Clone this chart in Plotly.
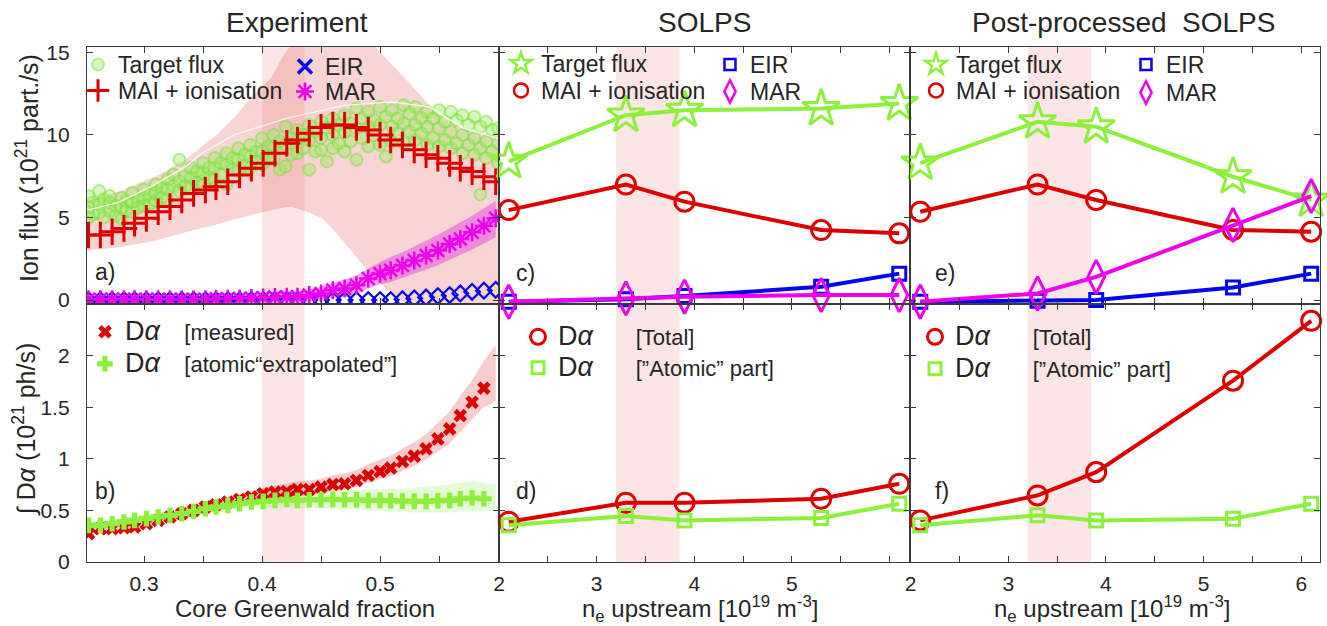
import plotly.graph_objects as go

# ------------------------------------------------------------------ data
# Experiment: core Greenwald fraction grid of the MAI / MAR / EIR / D-alpha series
GF = [0.253, 0.263, 0.273, 0.283, 0.292, 0.302, 0.312, 0.322, 0.332, 0.342,
      0.352, 0.361, 0.371, 0.381, 0.391, 0.401, 0.411, 0.421, 0.430, 0.440,
      0.450, 0.460, 0.470, 0.480, 0.490, 0.500, 0.509, 0.519, 0.529, 0.539,
      0.549, 0.559, 0.568, 0.578, 0.588, 0.598]
MAI_EXP = [3.94, 3.94, 4.14, 4.34, 4.65, 4.95, 5.35, 5.66, 6.06, 6.46,
           6.67, 6.87, 7.17, 7.58, 7.98, 8.28, 8.89, 9.5, 9.7, 10.1,
           10.46, 10.6, 10.6, 10.46, 10.3, 10.0, 9.7, 9.4, 9.1, 8.8,
           8.59, 8.28, 7.98, 7.78, 7.47, 7.17]
MAR_EXP = [0.05, 0.05, 0.05, 0.05, 0.05, 0.05, 0.05, 0.05, 0.05, 0.05,
           0.05, 0.07, 0.08, 0.10, 0.12, 0.15, 0.18, 0.20, 0.2, 0.3,
           0.4, 0.6, 0.7, 0.9, 1.3, 1.6, 1.8, 2.1, 2.4, 2.7,
           3.0, 3.4, 3.7, 4.1, 4.5, 4.95]
MAR_EXP_HI = [0.25, 0.25, 0.25, 0.25, 0.25, 0.25, 0.25, 0.27, 0.28, 0.3,
              0.3, 0.32, 0.34, 0.37, 0.4, 0.45, 0.5, 0.55, 0.5, 0.65,
              0.8, 1.05, 1.25, 1.5, 1.9, 2.3, 2.6, 2.9, 3.25, 3.6,
              3.95, 4.35, 4.7, 5.1, 5.55, 6.0]
MAR_EXP_LO = [-0.2, -0.2, -0.2, -0.2, -0.2, -0.2, -0.2, -0.2, -0.2, -0.2,
              -0.2, -0.2, -0.2, -0.2, -0.2, -0.2, -0.2, -0.2, -0.2, -0.1,
              0.0, 0.15, 0.2, 0.35, 0.7, 0.95, 1.1, 1.35, 1.6, 1.85,
              2.1, 2.45, 2.75, 3.05, 3.4, 3.8]
EIR_EXP = [0, 0, 0, 0, 0, 0, 0, 0, 0, 0,
           0, 0, 0, 0, 0, 0, 0, 0, 0, 0,
           0, 0, 0, 0, 0, 0, 0, 0.05, 0.1, 0.16,
           0.24, 0.3, 0.4, 0.5, 0.57, 0.62]

# uncertainty band of MAI + ionisation
BAND_GF = [0.252, 0.28, 0.31, 0.335, 0.363, 0.377, 0.391, 0.408, 0.418, 0.425, 0.44,
           0.452, 0.466, 0.48, 0.494, 0.508, 0.523, 0.537, 0.551, 0.565, 0.58, 0.601]
MAI_HI = [6.0, 6.6, 7.5, 8.5, 10.1, 11.1, 12.3, 13.5, 14.8, 15.5, 15.5,
          15.5, 15.5, 15.5, 15.5, 14.4, 13.3, 12.2, 11.1, 10.6, 10.2, 9.9]
MAI_LO = [3.0, 3.2, 3.6, 4.1, 4.6, 4.9, 5.15, 5.45, 5.6, 5.65, 5.3,
          4.9, 3.8, 2.6, 1.4, 0.5, -0.3, -0.5, -0.5, -0.5, -0.5, -0.5]

# target flux measurements (scatter cloud)
TF_POINTS = [
    (0.253, 6.3), (0.253, 5.6), (0.253, 5.0), (0.257, 5.9), (0.257, 5.2),
    (0.262, 6.6), (0.262, 5.8), (0.262, 5.3), (0.266, 6.1), (0.266, 5.0),
    (0.271, 5.9), (0.271, 5.4), (0.271, 6.3), (0.276, 5.7), (0.276, 5.1),
    (0.281, 6.2), (0.281, 5.6), (0.281, 4.9), (0.285, 6.0), (0.285, 5.4),
    (0.290, 6.5), (0.290, 5.9), (0.290, 5.3), (0.295, 6.1), (0.295, 5.6),
    (0.300, 6.7), (0.300, 6.2), (0.300, 5.7), (0.305, 6.4), (0.305, 5.8),
    (0.310, 7.0), (0.310, 6.5), (0.310, 6.0), (0.315, 6.8), (0.315, 6.2),
    (0.320, 7.3), (0.320, 6.7), (0.320, 6.1), (0.325, 7.6), (0.325, 6.9),
    (0.330, 8.5), (0.330, 7.2), (0.330, 6.6), (0.335, 7.5), (0.335, 6.9),
    (0.340, 8.0), (0.340, 7.4), (0.340, 6.8), (0.345, 7.8), (0.345, 7.1),
    (0.350, 8.3), (0.350, 7.7), (0.350, 7.0), (0.355, 8.0), (0.355, 7.4),
    (0.360, 8.6), (0.360, 8.0), (0.360, 7.3), (0.365, 8.3), (0.365, 7.6),
    (0.370, 8.9), (0.370, 8.2), (0.370, 7.0), (0.375, 8.6), (0.375, 7.9),
    (0.380, 9.2), (0.380, 8.5), (0.380, 7.8), (0.385, 8.8), (0.385, 8.1),
    (0.390, 9.4), (0.390, 8.7), (0.390, 8.0), (0.395, 9.0), (0.395, 8.4),
    (0.400, 9.8), (0.400, 9.0), (0.400, 8.2), (0.405, 9.3), (0.405, 8.5),
    (0.410, 10.0), (0.410, 9.3), (0.410, 8.6), (0.415, 9.6), (0.415, 7.9),
    (0.420, 10.5), (0.420, 9.4), (0.420, 8.1), (0.425, 9.8), (0.425, 8.8),
    (0.430, 10.3), (0.430, 9.6), (0.430, 8.9), (0.435, 10.0), (0.435, 9.2),
    (0.440, 10.6), (0.440, 9.7), (0.440, 7.9), (0.445, 10.2), (0.445, 9.0),
    (0.450, 10.8), (0.450, 9.8), (0.450, 9.1), (0.455, 10.4), (0.455, 8.4),
    (0.460, 11.0), (0.460, 10.0), (0.460, 9.2), (0.465, 10.6), (0.465, 9.5),
    (0.470, 11.2), (0.470, 10.2), (0.470, 9.0), (0.475, 10.7), (0.475, 9.6),
    (0.480, 11.6), (0.480, 10.4), (0.480, 8.5), (0.485, 11.0), (0.485, 9.8),
    (0.490, 11.4), (0.490, 10.5), (0.490, 9.3), (0.495, 10.9), (0.495, 10.0),
    (0.500, 11.7), (0.500, 10.6), (0.500, 9.4), (0.505, 11.1), (0.505, 8.7),
    (0.510, 11.5), (0.510, 10.5), (0.510, 9.6), (0.515, 11.0), (0.515, 10.1),
    (0.520, 11.8), (0.520, 10.7), (0.520, 9.5), (0.525, 11.3), (0.525, 10.2),
    (0.530, 11.7), (0.530, 10.6), (0.530, 9.7), (0.535, 11.0), (0.535, 10.1),
    (0.540, 11.4), (0.540, 10.5), (0.540, 9.4), (0.545, 11.0), (0.545, 9.8),
    (0.550, 11.5), (0.550, 10.4), (0.550, 9.3), (0.555, 10.8), (0.555, 9.7),
    (0.560, 11.4), (0.560, 10.2), (0.560, 9.2), (0.565, 10.9), (0.565, 9.5),
    (0.570, 11.2), (0.570, 10.0), (0.570, 8.9), (0.575, 10.6), (0.575, 9.4),
    (0.580, 11.1), (0.580, 9.8), (0.580, 8.8), (0.585, 10.5), (0.585, 9.2),
    (0.585, 6.4), (0.590, 10.8), (0.590, 9.6), (0.590, 8.6), (0.595, 10.3),
    (0.595, 9.0), (0.600, 10.4), (0.600, 9.5), (0.600, 8.3),
]
TF_GF = [p[0] for p in TF_POINTS]
TF_FLUX = [p[1] for p in TF_POINTS]
TF_EDGE_GF = [0.252, 0.278, 0.306, 0.335, 0.349, 0.376, 0.42, 0.47, 0.51, 0.542, 0.571, 0.6]
TF_EDGE = [5.45, 5.9, 6.87, 8.08, 8.89, 10.0, 11.0, 11.8, 12.0, 11.7, 10.4, 9.8]

# Experiment D-alpha
DA_MEAS = [0.275, 0.323, 0.323, 0.333, 0.339, 0.371, 0.403, 0.436, 0.468, 0.5,
           0.533, 0.555, 0.581, 0.606, 0.63, 0.661, 0.678, 0.684, 0.703, 0.703,
           0.726, 0.751, 0.758, 0.79, 0.839, 0.877, 0.91, 0.974, 1.026, 1.097,
           1.193, 1.29, 1.419, 1.548, 1.684]
DA_MEAS_HI = [0.32, 0.36, 0.37, 0.38, 0.39, 0.42, 0.45, 0.48, 0.51, 0.54,
              0.57, 0.60, 0.63, 0.66, 0.69, 0.72, 0.74, 0.76, 0.78, 0.79,
              0.81, 0.84, 0.86, 0.89, 0.95, 0.99, 1.03, 1.10, 1.16, 1.24,
              1.35, 1.46, 1.61, 1.76, 1.95, 2.1]
DA_MEAS_LO = [0.24, 0.29, 0.29, 0.30, 0.30, 0.33, 0.36, 0.40, 0.43, 0.46,
              0.49, 0.51, 0.54, 0.56, 0.58, 0.61, 0.62, 0.63, 0.64, 0.65,
              0.67, 0.69, 0.70, 0.73, 0.77, 0.80, 0.83, 0.88, 0.93, 0.99,
              1.07, 1.15, 1.26, 1.38, 1.50, 1.56]
DA_ATOM = [0.355, 0.355, 0.371, 0.388, 0.403, 0.42, 0.436, 0.452, 0.468, 0.49,
           0.516, 0.533, 0.548, 0.565, 0.581, 0.587, 0.597, 0.606, 0.597, 0.603,
           0.603, 0.607, 0.603, 0.603, 0.597, 0.597, 0.594, 0.59, 0.587, 0.587,
           0.594, 0.597, 0.613, 0.62, 0.613]
DA_ATOM_HI = [0.40, 0.40, 0.41, 0.43, 0.44, 0.46, 0.48, 0.50, 0.52, 0.54,
              0.57, 0.59, 0.61, 0.63, 0.65, 0.66, 0.67, 0.68, 0.68, 0.69,
              0.69, 0.70, 0.70, 0.70, 0.70, 0.71, 0.71, 0.71, 0.72, 0.73,
              0.74, 0.75, 0.77, 0.78, 0.76, 0.75]
DA_ATOM_LO = [0.31, 0.31, 0.33, 0.35, 0.36, 0.38, 0.39, 0.41, 0.42, 0.44,
              0.46, 0.48, 0.49, 0.51, 0.52, 0.52, 0.53, 0.53, 0.52, 0.52,
              0.52, 0.51, 0.51, 0.51, 0.50, 0.50, 0.49, 0.49, 0.48, 0.48,
              0.48, 0.48, 0.49, 0.49, 0.49, 0.50]

# SOLPS and post-processed SOLPS
NE = [2.1, 3.3, 3.9, 5.3, 6.1]
SOLPS_TARGET = [8.4, 11.2, 11.5, 11.6, 11.9]
SOLPS_MAI = [5.45, 7.0, 5.96, 4.24, 4.04]
SOLPS_EIR = [-0.1, 0.05, 0.24, 0.8, 1.6]
SOLPS_MAR = [-0.1, 0.1, 0.2, 0.3, 0.3]
POST_TARGET = [8.3, 10.8, 10.5, 7.47, 6.06]
POST_MAI = [5.35, 7.0, 6.06, 4.24, 4.14]
POST_EIR = [-0.1, -0.05, 0.0, 0.76, 1.6]
POST_MAR = [-0.1, 0.4, 1.4, 4.55, 6.3]
SOLPS_DA_TOTAL = [0.39, 0.574, 0.574, 0.613, 0.758]
SOLPS_DA_ATOM = [0.355, 0.446, 0.403, 0.426, 0.565]
POST_DA_TOTAL = [0.403, 0.645, 0.871, 1.757, 2.337]
POST_DA_ATOM = [0.355, 0.452, 0.403, 0.42, 0.565]

EXP_WINDOW = [0.4, 0.436]
SOLPS_WINDOW = [3.2, 3.85]

GF_TICKS = [0.3, 0.35, 0.4, 0.45, 0.5, 0.55]
GF_LABELS = ["0.3", "", "0.4", "", "0.5", ""]
NE_TICKS = [2, 2.5, 3, 3.5, 4, 4.5, 5, 5.5, 6]
NE_LABELS_MID = ["2", "", "3", "", "4", "", "5", "", ""]
NE_LABELS_RIGHT = ["2", "", "3", "", "4", "", "5", "", "6"]
FLUX_TICKS = [0, 5, 10, 15]
DA_TICKS = [0, 0.5, 1, 1.5, 2]
DA_LABELS = ["0", "0.5", "1", "1.5", "2"]

# ------------------------------------------------------------------ style
FONT = "Liberation Sans, Arial, sans-serif"
TXT = "#262626"
FRAME = "#3a3a3a"
RED = "#DC0000"
GREEN = "#8CF03C"
BLUE = "#0505EE"
MAG = "#EE00EE"

W, H = 1327, 626
ML, MR, MT, MB = 87, 7, 47, 64
PW, PH = W - ML - MR, H - MT - MB


def px2x(px):
    return (px - ML) / PW


def py2y(py):
    return (H - MB - py) / PH


C1, C2 = px2x(499), px2x(910)
RMID = py2y(304)

fig = go.Figure()


def band(xs, lo, hi, color, xa, ya):
    fig.add_trace(go.Scatter(
        x=list(xs) + list(xs)[::-1], y=list(hi) + list(lo)[::-1],
        fill="toself", fillcolor=color, line=dict(width=0), mode="lines",
        hoverinfo="skip", showlegend=False, xaxis=xa, yaxis=ya))


DA = '<span style="font-size:27px">D<i>α</i></span>'

# ---------------- panel a
band(BAND_GF, MAI_LO, MAI_HI, "rgba(228,90,90,0.26)", "x", "y")
fig.add_trace(go.Scatter(
    x=TF_GF, y=TF_FLUX, mode="markers", name="Target flux",
    marker=dict(symbol="circle", size=12, color="rgba(150,240,90,0.38)",
                line=dict(color="rgba(120,228,55,0.5)", width=2)),
    xaxis="x", yaxis="y", legend="legend"))
fig.add_trace(go.Scatter(
    x=TF_EDGE_GF, y=TF_EDGE, mode="lines", line=dict(color="rgba(255,255,255,0.85)", width=1.2),
    showlegend=False, hoverinfo="skip", xaxis="x", yaxis="y"))
band(GF, MAR_EXP_LO, MAR_EXP_HI, "rgba(225,40,225,0.42)", "x", "y")
fig.add_trace(go.Scatter(
    x=GF, y=EIR_EXP, mode="markers", showlegend=False,
    marker=dict(symbol="diamond-open", size=12, color=BLUE, line=dict(color=BLUE, width=2.2)),
    xaxis="x", yaxis="y"))
fig.add_trace(go.Scatter(
    x=[None], y=[None], mode="markers", name="EIR",
    marker=dict(symbol="x-thin", size=14, color=BLUE, line=dict(color=BLUE, width=3.5)),
    xaxis="x", yaxis="y", legend="legend2"))
fig.add_trace(go.Scatter(
    x=GF, y=MAR_EXP, mode="markers", name="MAR",
    marker=dict(symbol="asterisk", size=15, color=MAG, line=dict(color=MAG, width=2.5)),
    xaxis="x", yaxis="y", legend="legend18"))
fig.add_trace(go.Scatter(
    x=GF, y=MAI_EXP, mode="markers", name="MAI + ionisation",
    marker=dict(symbol="cross-thin", size=19, color=RED, line=dict(color=RED, width=3)),
    xaxis="x", yaxis="y", legend="legend17"))

# ---------------- panel b
band(GF, DA_MEAS_LO, DA_MEAS_HI, "rgba(228,90,90,0.3)", "x4", "y4")
band(GF, DA_ATOM_LO, DA_ATOM_HI, "rgba(150,240,90,0.25)", "x4", "y4")
fig.add_trace(go.Scatter(
    x=GF[:len(DA_MEAS)], y=DA_MEAS, mode="markers",
    name=DA + "\u00a0\u00a0\u00a0\u00a0[measured]",
    marker=dict(symbol="x", size=12, color=RED, line=dict(width=0)),
    xaxis="x4", yaxis="y4", legend="legend7"))
fig.add_trace(go.Scatter(
    x=GF[:len(DA_ATOM)], y=DA_ATOM, mode="markers",
    name=DA + "\u00a0\u00a0\u00a0\u00a0[atomic“extrapolated”]",
    marker=dict(symbol="cross", size=13, color=GREEN, line=dict(width=0)),
    xaxis="x4", yaxis="y4", legend="legend8"))


# ---------------- panels c, e (ion fluxes, SOLPS)
def flux_panel(xa, ya, tgt, mai, eir, mar, legs):
    common = dict(mode="lines+markers", showlegend=False, cliponaxis=False, xaxis=xa, yaxis=ya)
    fig.add_trace(go.Scatter(x=NE, y=tgt, line=dict(color=GREEN, width=4),
                             marker=dict(symbol="star-open", size=28, color=GREEN,
                                         line=dict(color=GREEN, width=3)), **common))
    fig.add_trace(go.Scatter(x=NE, y=mai, line=dict(color=RED, width=4),
                             marker=dict(symbol="circle-open", size=19, color=RED,
                                         line=dict(color=RED, width=3)), **common))
    fig.add_trace(go.Scatter(x=NE, y=eir, line=dict(color=BLUE, width=4),
                             marker=dict(symbol="square-open", size=13, color=BLUE,
                                         line=dict(color=BLUE, width=3)), **common))
    fig.add_trace(go.Scatter(x=NE, y=mar, line=dict(color=MAG, width=4),
                             marker=dict(symbol="diamond-tall-open", size=24, color=MAG,
                                         line=dict(color=MAG, width=3)), **common))
    specs = [("Target flux", "star-open", GREEN, 16, legs[0]),
             ("MAI + ionisation", "circle-open", RED, 14, legs[1]),
             ("EIR", "square-open", BLUE, 11, legs[2]),
             ("MAR", "diamond-tall-open", MAG, 16, legs[3])]
    for name, sym, col, sz, lg in specs:
        fig.add_trace(go.Scatter(x=[None], y=[None], mode="markers", name=name,
                                 marker=dict(symbol=sym, size=sz, color=col, line=dict(color=col, width=2.5)),
                                 xaxis=xa, yaxis=ya, legend=lg, showlegend=True))


flux_panel("x2", "y2", SOLPS_TARGET, SOLPS_MAI, SOLPS_EIR, SOLPS_MAR,
           ["legend3", "legend4", "legend5", "legend6"])
flux_panel("x3", "y3", POST_TARGET, POST_MAI, POST_EIR, POST_MAR,
           ["legend9", "legend10", "legend11", "legend12"])


# ---------------- panels d, f (D-alpha, SOLPS)
def da_panel(xa, ya, total, atom, legs):
    common = dict(mode="lines+markers", showlegend=False, cliponaxis=False, xaxis=xa, yaxis=ya)
    fig.add_trace(go.Scatter(x=NE, y=total, line=dict(color=RED, width=4),
                             marker=dict(symbol="circle-open", size=19, color=RED,
                                         line=dict(color=RED, width=3)), **common))
    fig.add_trace(go.Scatter(x=NE, y=atom, line=dict(color=GREEN, width=4),
                             marker=dict(symbol="square-open", size=13, color=GREEN,
                                         line=dict(color=GREEN, width=3)), **common))
    gap = "\u00a0" * 7
    specs = [(DA + gap + "[Total]", "circle-open", RED, 15, legs[0]),
             (DA + gap + "[”Atomic” part]", "square-open", GREEN, 12, legs[1])]
    for name, sym, col, sz, lg in specs:
        fig.add_trace(go.Scatter(x=[None], y=[None], mode="markers", name=name,
                                 marker=dict(symbol=sym, size=sz, color=col, line=dict(color=col, width=3)),
                                 xaxis=xa, yaxis=ya, legend=lg, showlegend=True))


da_panel("x5", "y5", SOLPS_DA_TOTAL, SOLPS_DA_ATOM, ["legend13", "legend14"])
da_panel("x6", "y6", POST_DA_TOTAL, POST_DA_ATOM, ["legend15", "legend16"])

# ------------------------------------------------------------------ axes
axis_common = dict(showline=True, linecolor=FRAME, linewidth=1.3, mirror="ticks",
                   ticks="inside", ticklen=6, tickwidth=1.3, tickcolor=FRAME,
                   showgrid=False, zeroline=False,
                   tickfont=dict(family=FONT, size=21, color=TXT))

lay = {}
xcfg = [
    ("xaxis", [0, C1], [0.2517, 0.6008], "y", GF_TICKS, GF_LABELS, False),
    ("xaxis2", [C1, C2], [2.0, 6.21], "y2", NE_TICKS, NE_LABELS_MID, False),
    ("xaxis3", [C2, 1], [1.995, 6.19], "y3", NE_TICKS, NE_LABELS_RIGHT, False),
    ("xaxis4", [0, C1], [0.2517, 0.6008], "y4", GF_TICKS, GF_LABELS, True),
    ("xaxis5", [C1, C2], [2.0, 6.21], "y5", NE_TICKS, NE_LABELS_MID, True),
    ("xaxis6", [C2, 1], [1.995, 6.19], "y6", NE_TICKS, NE_LABELS_RIGHT, True),
]
for name, dom, rng, anchor, tv, tt, show in xcfg:
    lay[name] = dict(axis_common, domain=dom, range=rng, anchor=anchor,
                     tickvals=tv, ticktext=tt, showticklabels=show, ticklabelstandoff=3)
ycfg = [
    ("yaxis", [RMID, 1], [-0.24, 15.33], "x", FLUX_TICKS, [str(v) for v in FLUX_TICKS], True),
    ("yaxis2", [RMID, 1], [-0.24, 15.33], "x2", FLUX_TICKS, None, False),
    ("yaxis3", [RMID, 1], [-0.24, 15.33], "x3", FLUX_TICKS, None, False),
    ("yaxis4", [0, RMID], [0, 2.5], "x4", DA_TICKS, DA_LABELS, True),
    ("yaxis5", [0, RMID], [0, 2.5], "x5", DA_TICKS, None, False),
    ("yaxis6", [0, RMID], [0, 2.5], "x6", DA_TICKS, None, False),
]
for name, dom, rng, anchor, tv, tt, show in ycfg:
    d = dict(axis_common, domain=dom, range=rng, anchor=anchor, tickvals=tv,
             showticklabels=show, ticklabelstandoff=12)
    if tt:
        d["ticktext"] = tt
    lay[name] = d

# ------------------------------------------------------------------ legends
LEG_POS = {
    "legend": (100, 64), "legend17": (100, 90), "legend2": (307, 66), "legend18": (307, 91),
    "legend3": (523, 63), "legend4": (523, 90), "legend5": (732, 64), "legend6": (732, 91),
    "legend7": (107, 333), "legend8": (107, 365),
    "legend9": (938, 64), "legend10": (938, 90), "legend11": (1148, 64), "legend12": (1148, 92),
    "legend13": (540, 338), "legend14": (540, 369),
    "legend15": (937, 338), "legend16": (937, 370),
}
for lg, (cx, cy) in LEG_POS.items():
    big = lg in ("legend7", "legend8", "legend13", "legend14", "legend15", "legend16")
    lay[lg] = dict(x=px2x(cx - 22), y=py2y(cy - (22 if big else 21)), xanchor="left", yanchor="top",
                   bgcolor="rgba(0,0,0,0)", borderwidth=0, itemwidth=30,
                   tracegroupgap=0, itemsizing="trace", itemclick=False,
                   font=dict(family=FONT, size=23 if not big else 22, color=TXT))

# ------------------------------------------------------------------ annotations
ann = []


def text(s, px, py, size, angle=0):
    ann.append(dict(text=s, x=px2x(px), y=py2y(py), xref="paper", yref="paper",
                    showarrow=False, textangle=angle, xanchor="center", yanchor="middle",
                    font=dict(family=FONT, size=size, color=TXT)))


text("Experiment", 297, 22, 28)
text("SOLPS", 704, 22, 28)
text("Post-processed\u00a0\u00a0SOLPS", 1123, 22, 28)
text("Ion flux (10<sup>21</sup> part./s)", 27, 168, 25, -90)
text("∫ D<i>α</i> (10<sup>21</sup> ph/s)", 25, 430, 25, -90)
text("Core Greenwald fraction", 305, 608, 24)
text("n<sub>e</sub> upstream [10<sup>19</sup> m<sup>-3</sup>]", 700, 609, 24)
text("n<sub>e</sub> upstream [10<sup>19</sup> m<sup>-3</sup>]", 1112, 609, 24)
for lab, px, py in [("a)", 105, 272), ("b)", 105, 491), ("c)", 525, 273),
                    ("d)", 526, 491), ("e)", 945, 273), ("f)", 942, 491)]:
    text(lab, px, py, 23)

# ------------------------------------------------------------------ shapes
shapes = []
for xa, ya, win in [("x", "y", EXP_WINDOW), ("x4", "y4", EXP_WINDOW),
                    ("x2", "y2", SOLPS_WINDOW), ("x5", "y5", SOLPS_WINDOW),
                    ("x3", "y3", SOLPS_WINDOW), ("x6", "y6", SOLPS_WINDOW)]:
    shapes.append(dict(type="rect", xref=xa, yref=ya + " domain", x0=win[0], x1=win[1],
                       y0=0, y1=1, fillcolor="rgba(235,110,110,0.18)", line=dict(width=0),
                       layer="below"))

fig.update_layout(
    width=W, height=H, margin=dict(l=ML, r=MR, t=MT, b=MB),
    paper_bgcolor="white", plot_bgcolor="white",
    font=dict(family=FONT, color=TXT), annotations=ann, shapes=shapes,
    **lay)

fig.write_html("out.html", config={"displayModeBar": False},
               post_script="document.body.style.margin='0px';")
